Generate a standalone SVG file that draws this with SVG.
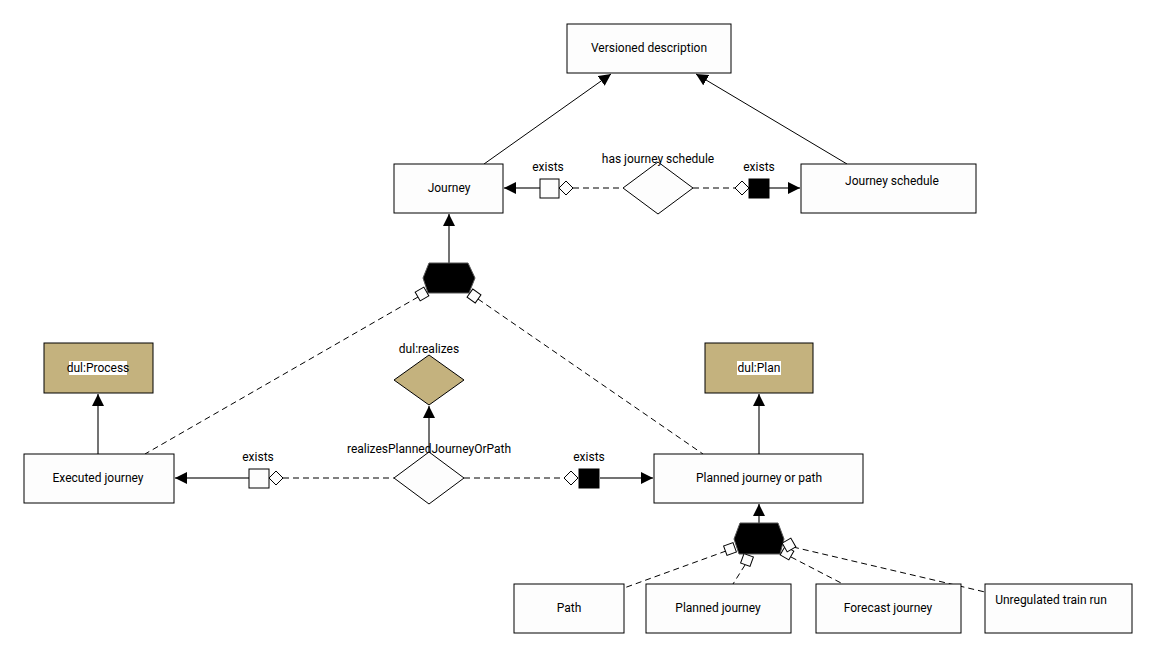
<svg xmlns="http://www.w3.org/2000/svg" width="1157" height="658" viewBox="0 0 1157 658">
  <defs>
    <style>
      .box { fill: #fdfdfd; stroke: #000; stroke-width: 1; }
      .tan { fill: #c4b27e; stroke: #000; stroke-width: 1; }
      .rel { fill: #fdfdfd; stroke: #000; stroke-width: 1; }
      .lbl { font-family: Roboto, "Liberation Sans", sans-serif; font-size: 12px; fill: #000; text-anchor: middle; }
      .solid { stroke: #444; stroke-width: 1.5; fill: none; }
      .thin { stroke: #000; stroke-width: 1; fill: none; }
      .dash { stroke: #000; stroke-width: 1; fill: none; stroke-dasharray: 6 4; }
      .sq { fill: #fdfdfd; stroke: #000; stroke-width: 1; }
      .sqb { fill: #000; stroke: #000; stroke-width: 1; }
      .hex { fill: #000; stroke: #555; stroke-width: 1; }
    </style>
    <marker id="arrow" markerUnits="userSpaceOnUse" markerWidth="13" markerHeight="13" refX="12" refY="6" orient="auto">
      <path d="M0,0 L12,6 L0,12 z" fill="#000"/>
    </marker>
  </defs>

  <!-- connectors -->
  <g id="connectors">
    <!-- subclass links -->
    <line class="thin" x1="484" y1="164" x2="611" y2="74" marker-end="url(#arrow)"/>
    <line class="thin" x1="847" y1="164" x2="696" y2="74" marker-end="url(#arrow)"/>
    <line class="solid" x1="449" y1="263" x2="449" y2="214" marker-end="url(#arrow)"/>
    <line class="solid" x1="759" y1="523" x2="759" y2="504" marker-end="url(#arrow)"/>
    <line class="solid" x1="98" y1="454" x2="98" y2="394" marker-end="url(#arrow)"/>
    <line class="solid" x1="759" y1="454" x2="759" y2="394" marker-end="url(#arrow)"/>
    <line class="solid" x1="429" y1="452" x2="429" y2="406" marker-end="url(#arrow)"/>

    <!-- has journey schedule -->
    <line class="solid" x1="540" y1="188" x2="504" y2="188" marker-end="url(#arrow)"/>
    <line class="dash" x1="573" y1="188" x2="623" y2="188"/>
    <line class="dash" x1="693" y1="188" x2="735" y2="188"/>
    <line class="solid" x1="769" y1="188" x2="800" y2="188" marker-end="url(#arrow)"/>

    <!-- realizesPlannedJourneyOrPath -->
    <line class="solid" x1="249" y1="478" x2="175" y2="478" marker-end="url(#arrow)"/>
    <line class="dash" x1="283" y1="478" x2="394" y2="478"/>
    <line class="dash" x1="464" y1="478" x2="564" y2="478"/>
    <line class="solid" x1="600" y1="478" x2="653" y2="478" marker-end="url(#arrow)"/>

    <!-- union members of Journey -->
    <line class="dash" x1="418" y1="297" x2="145" y2="454"/>
    <line class="dash" x1="478" y1="299" x2="703" y2="454"/>

    <!-- union members of Planned journey or path -->
    <line class="dash" x1="726" y1="551" x2="624" y2="588"/>
    <line class="dash" x1="745" y1="565" x2="733" y2="584"/>
    <line class="dash" x1="791" y1="557" x2="843" y2="584"/>
    <line class="dash" x1="793" y1="547" x2="985" y2="592"/>
  </g>

  <!-- connector end symbols -->
  <g id="ends">
    <rect class="sq" x="540" y="179" width="19" height="19"/>
    <polygon class="sq" points="559,188 566,181 573,188 566,195"/>
    <polygon class="sq" points="735,188 742,181 749,188 742,195"/>
    <rect class="sqb" x="749" y="179" width="20" height="19"/>

    <rect class="sq" x="249" y="469" width="20" height="19"/>
    <polygon class="sq" points="269,478 276,471 283,478 276,485"/>
    <polygon class="sq" points="564,478 571,471 578,478 571,485"/>
    <rect class="sqb" x="579" y="469" width="20" height="19"/>
  </g>

  <!-- union hexagons -->
  <g id="union-journey">
    <polygon class="hex" points="429,263 468,263 475,278 469,293 428,293 423,278"/>
    <rect class="sq" x="417" y="289" width="10" height="10" transform="rotate(-30 422 294)"/>
    <rect class="sq" x="469" y="291" width="10" height="10" transform="rotate(35 474 296)"/>
  </g>
  <g id="union-planned">
    <polygon class="hex" points="740,523 778,523 784,539 780,554 739,554 734,539"/>
    <rect class="sq" x="725" y="544" width="10" height="10" transform="rotate(-20 730 549)"/>
    <rect class="sq" x="742" y="555" width="10" height="10" transform="rotate(20 747 560)"/>
    <rect class="sq" x="782" y="548" width="10" height="10" transform="rotate(30 787 553)"/>
    <rect class="sq" x="784" y="540" width="10" height="10" transform="rotate(-30 789 545)"/>
  </g>

  <!-- nodes -->
  <g id="versioned-description">
    <rect class="box" x="567" y="24" width="164" height="49"/>
    <text class="lbl" x="649" y="52">Versioned description</text>
  </g>
  <g id="journey">
    <rect class="box" x="394" y="164" width="109" height="49"/>
    <text class="lbl" x="449" y="192">Journey</text>
  </g>
  <g id="journey-schedule">
    <rect class="box" x="801" y="164" width="175" height="49"/>
    <text class="lbl" x="892" y="185">Journey schedule</text>
  </g>
  <g id="has-journey-schedule">
    <polygon class="rel" points="623,188 658,162 693,188 658,214"/>
    <text class="lbl" x="658" y="163">has journey schedule</text>
  </g>
  <text class="lbl" x="548" y="171">exists</text>
  <text class="lbl" x="759" y="171">exists</text>

  <g id="dul-process">
    <rect class="tan" x="44" y="343" width="109" height="50"/>
    <rect x="69" y="361" width="58" height="14" fill="#fff"/>
    <text class="lbl" x="98" y="372">dul:Process</text>
  </g>
  <g id="dul-plan">
    <rect class="tan" x="705" y="343" width="108" height="50"/>
    <rect x="737" y="361" width="44" height="14" fill="#fff"/>
    <text class="lbl" x="759" y="372">dul:Plan</text>
  </g>
  <g id="dul-realizes">
    <polygon class="tan" points="394,380 429,355 464,380 429,405"/>
    <text class="lbl" x="429" y="353">dul:realizes</text>
  </g>

  <g id="executed-journey">
    <rect class="box" x="24" y="454" width="150" height="49"/>
    <text class="lbl" x="98" y="482">Executed journey</text>
  </g>
  <g id="planned-journey-or-path">
    <rect class="box" x="654" y="454" width="209" height="49"/>
    <text class="lbl" x="759" y="482">Planned journey or path</text>
  </g>
  <g id="realizes-planned-journey-or-path">
    <polygon class="rel" points="394,478 429,452 464,478 429,504"/>
    <text class="lbl" x="429" y="453">realizesPlannedJourneyOrPath</text>
  </g>
  <text class="lbl" x="258" y="461">exists</text>
  <text class="lbl" x="589" y="461">exists</text>

  <g id="path">
    <rect class="box" x="514" y="584" width="110" height="49"/>
    <text class="lbl" x="569" y="612">Path</text>
  </g>
  <g id="planned-journey">
    <rect class="box" x="646" y="584" width="145" height="49"/>
    <text class="lbl" x="718" y="612">Planned journey</text>
  </g>
  <g id="forecast-journey">
    <rect class="box" x="816" y="584" width="145" height="49"/>
    <text class="lbl" x="888" y="612">Forecast journey</text>
  </g>
  <g id="unregulated-train-run">
    <rect class="box" x="985" y="584" width="147" height="49"/>
    <text class="lbl" x="1051" y="604">Unregulated train run</text>
  </g>
</svg>
